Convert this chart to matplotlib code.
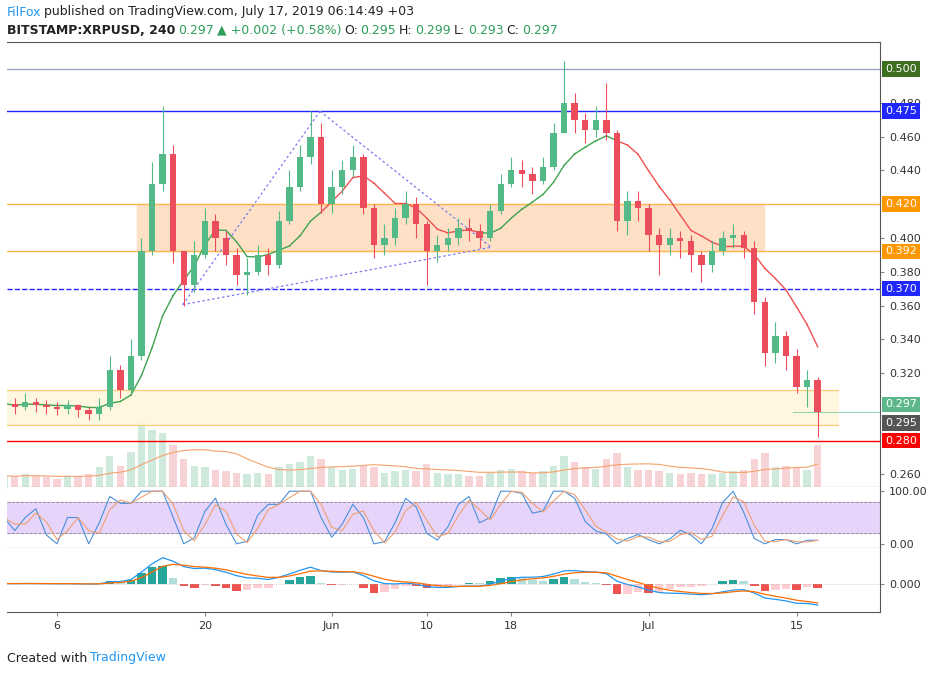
import matplotlib
matplotlib.use("Agg")
import matplotlib.pyplot as plt
import numpy as np
import pandas as pd

# ---- data (daily, day 0 = May 1 2019) ----
closes = [0.302,0.300,0.303,0.301,0.300,0.299,0.301,0.298,0.296,
          0.300,0.322,0.310,0.330,0.392,0.432,0.450,0.392,0.372,0.390,0.410,0.400,0.390,
          0.378,0.380,0.390,0.384,0.410,0.430,0.448,0.460,0.420,
          0.430,0.440,0.448,0.418,0.396,0.400,0.412,0.420,0.408,0.392,0.396,0.400,0.406,
          0.404,0.400,0.416,0.432,0.440,0.438,0.434,0.442,0.462,0.480,0.470,0.464,0.470,
          0.462,0.410,0.422,0.418,
          0.402,0.396,0.400,0.398,0.390,0.384,0.392,0.400,0.402,0.394,0.362,0.332,0.342,
          0.330,0.312,0.316,0.297]
highs = [0.306,0.305,0.308,0.305,0.304,0.303,0.304,0.302,0.300,
         0.305,0.330,0.325,0.340,0.400,0.445,0.478,0.455,0.392,0.398,0.418,0.414,0.404,
         0.394,0.388,0.396,0.394,0.416,0.440,0.455,0.475,0.468,
         0.440,0.446,0.455,0.450,0.420,0.408,0.418,0.428,0.424,0.410,0.402,0.406,0.412,
         0.412,0.408,0.420,0.438,0.448,0.446,0.442,0.448,0.468,0.505,0.486,0.474,0.478,
         0.492,0.464,0.428,0.428,
         0.420,0.406,0.406,0.404,0.402,0.392,0.398,0.404,0.408,0.404,0.398,0.365,0.350,
         0.345,0.334,0.322,0.318]
lows = [0.298,0.296,0.298,0.297,0.296,0.295,0.296,0.294,0.292,
        0.292,0.298,0.305,0.308,0.328,0.390,0.428,0.385,0.360,0.368,0.388,0.392,0.384,
        0.372,0.366,0.378,0.378,0.382,0.408,0.428,0.444,0.415,
        0.415,0.426,0.436,0.414,0.388,0.390,0.396,0.408,0.400,0.372,0.386,0.392,0.396,
        0.398,0.394,0.398,0.414,0.430,0.430,0.426,0.432,0.440,0.462,0.462,0.456,0.460,
        0.458,0.404,0.402,0.410,
        0.392,0.378,0.390,0.388,0.380,0.374,0.380,0.390,0.394,0.388,0.355,0.324,0.326,
        0.322,0.308,0.300,0.282]
volumes = [8,7,9,8,7,6,8,7,9,
           14,22,15,25,45,40,38,30,20,15,14,12,11,
           10,9,10,9,14,16,18,22,20,
           14,12,13,15,14,10,11,12,11,16,10,9,9,
           8,8,10,12,13,11,10,11,15,22,18,14,13,
           20,24,14,12,
           12,11,10,9,10,9,9,10,11,12,20,24,14,
           15,14,12,30]
tick_days = [5, 19, 31, 40, 48, 61, 75]
tick_labels = ["6", "20", "Jun", "10", "18", "Jul", "15"]
price_ticks = [0.260,0.320,0.340,0.360,0.380,0.400,0.440,0.460,0.480]
levels = {"0.500": (0.500, "#9aa5c4", "#3d6e1f"),
          "0.475": (0.475, "#2128ff", "#2128ff"),
          "0.420": (0.420, "#ffb74d", "#ff9800"),
          "0.392": (0.392, "#ffb74d", "#ff9800"),
          "0.370": (0.370, "#2128ff", "#2128ff"),
          "0.280": (0.280, "#ff0000", "#ff0000")}

c = np.array(closes); h = np.array(highs); l = np.array(lows)
o = np.concatenate([[c[0]], c[:-1]])
days = np.arange(len(c))
GREEN, RED = "#53b987", "#eb4d5c"

fig = plt.figure(figsize=(9.39, 6.75), dpi=100)
W, H = 939, 675
def ax_rect(x0, y0, x1, y1):
    return fig.add_axes([x0 / W, 1 - y1 / H, (x1 - x0) / W, (y1 - y0) / H])

xl = (0.27, 82.9)
axv = ax_rect(7, 42, 880, 487)
axp = ax_rect(7, 42, 880, 487)
axr = ax_rect(7, 487, 880, 548)
axm = ax_rect(7, 548, 880, 612)

# volume
axv.set_ylim(0, max(volumes) * 7)
axv.set_xlim(*xl)
axv.axis("off")
vcol = ["#cfe9dc" if cc >= oo else "#f7d3d6" for cc, oo in zip(c, o)]
axv.bar(days, volumes, width=0.7, color=vcol, zorder=0)
axv.plot(days, pd.Series(volumes).rolling(10, min_periods=1).mean(), color="#f5a26b", lw=0.8)
axp.patch.set_visible(False)

for a in (axp, axr, axm):
    a.set_xlim(*xl)
    a.tick_params(left=False, labelleft=False, bottom=False, labelbottom=False,
                  right=True, labelright=True, labelsize=8, labelcolor="#333", length=3, color="#888")
    for s in a.spines.values():
        s.set_color("#555"); s.set_linewidth(0.8)
    a.spines["left"].set_visible(False); a.spines["top"].set_visible(False)
axp.spines["top"].set_visible(True)

axp.set_ylim(0.2526, 0.516)
axp.set_yticks(price_ticks)
axp.set_yticklabels([f"{t:.3f}" for t in price_ticks])

# zones
axp.fill_between([0.27, 78.9], 0.2893, 0.310, color="#fff6d9", alpha=0.8, zorder=1)
axp.plot([0.27, 78.9], [0.310, 0.310], color="#ffc870", lw=0.8)
axp.plot([0.27, 78.9], [0.2893, 0.2893], color="#ffc870", lw=0.8)
axp.fill_between([12.6, 71.9], 0.392, 0.420, color="#fde0c5", zorder=1)
for name, (v, lc, bc) in levels.items():
    axp.axhline(v, color=lc, lw=1, ls="--" if name == "0.370" else "-", zorder=2)
    axp.text(1.006, v, name, transform=axp.get_yaxis_transform(), va="center", ha="left",
             fontsize=8, color="white", bbox=dict(boxstyle="square,pad=0.25", fc=bc, ec="none"), zorder=10)
axp.axhline(0.297, xmin=0.9, color="#8fd0b0", lw=0.7)
for v, bc in ((0.297, "#5cb88a"), (0.295, "#555555")):
    axp.text(1.006, v + (0.0045 if v == 0.297 else -0.0045), f"{v:.3f}", transform=axp.get_yaxis_transform(),
             va="center", ha="left", fontsize=8, color="white",
             bbox=dict(boxstyle="square,pad=0.25", fc=bc, ec="none"), zorder=10)

# triangle
tri = [(16.9, 0.3605), (29.9, 0.4750), (46.1, 0.3945)]
for p, q in ((tri[0], tri[1]), (tri[0], tri[2]), (tri[1], tri[2])):
    axp.plot([p[0], q[0]], [p[1], q[1]], ls=(0, (2, 2)), color="#7b7bf0", lw=0.9, zorder=3)

# MA
ma = pd.Series(c).rolling(8, min_periods=1).mean().values
for i in range(1, len(c)):
    col = "#3fa34d" if (i < 31 or 46 <= i <= 58) else "#f05050"
    axp.plot([i - 1, i], [ma[i - 1], ma[i]], color=col, lw=1, zorder=4)

# candles
for i in days:
    col = GREEN if c[i] >= o[i] else RED
    axp.vlines(i, l[i], h[i], color=col, lw=0.8, zorder=5)
    lo, hi = min(o[i], c[i]), max(o[i], c[i])
    axp.bar(i, max(hi - lo, 0.0008), bottom=lo, width=0.6, color=col, zorder=6)

# stochastic panel
s = pd.Series(c)
k = ((s - s.rolling(4, min_periods=1).min()) /
     (s.rolling(4, min_periods=1).max() - s.rolling(4, min_periods=1).min()).replace(0, np.nan) * 100).fillna(50)
k = k.rolling(2, min_periods=1).mean(); d = k.rolling(2, min_periods=1).mean()
axr.set_ylim(-8, 108)
axr.fill_between(xl, 20, 80, color="#e6d4fb")
axr.axhline(80, color="#888", ls="--", lw=0.6); axr.axhline(20, color="#888", ls="--", lw=0.6)
axr.plot(days, k, color="#4a90d9", lw=0.8); axr.plot(days, d, color="#f0a070", lw=0.8)
axr.set_yticks([0, 100]); axr.set_yticklabels(["0.00", "100.00"])

# MACD
e12 = s.ewm(span=6).mean(); e26 = s.ewm(span=13).mean()
macd = e12 - e26; sig = macd.ewm(span=4).mean(); hist = (macd - sig) * 2
hc = []
for i in range(len(hist)):
    up = hist[i] >= (hist[i - 1] if i else 0)
    hc.append(("#26a69a" if up else "#b2dfdb") if hist[i] >= 0 else ("#ffcdd2" if up else "#ef5350"))
axm.bar(days, hist, width=0.8, color=hc)
axm.plot(days, macd, color="#2196f3", lw=0.9); axm.plot(days, sig, color="#ff6d00", lw=0.9)
lim = max(abs(macd).max(), abs(hist).max()) * 1.1
axm.set_ylim(-lim * 1.0, lim * 1.25)
axm.axhline(0, color="#aaa", lw=0.5, ls=(0, (1, 2)))
axm.set_yticks([0]); axm.set_yticklabels(["0.000"])
axm.tick_params(bottom=True, labelbottom=True, labelcolor="#333")
axm.set_xticks(tick_days); axm.set_xticklabels(tick_labels, fontsize=8)

G = "#2e9e5b"; K = "#222"
def chain2(parts, y):
    prev_t = None
    for txt, col, bold in parts:
        kw = dict(color=col, fontsize=9, va="center", weight="bold" if bold else "normal")
        if prev_t is None:
            prev_t = fig.text(7 / W, y, txt, **kw)
        else:
            prev_t = axp.annotate(txt, xy=(1, 0.5), xycoords=prev_t, xytext=(2, 0),
                                  textcoords="offset points", ha="left", annotation_clip=False, **kw)

chain2([("FilFox", "#2196f3", False),
        ("published on TradingView.com, July 17, 2019 06:14:49 +03", K, False)], 1 - 12 / H)
chain2([("BITSTAMP:XRPUSD, 240", K, True), ("0.297", G, False), ("▲ +0.002 (+0.58%)", G, False),
        ("O:", K, False), ("0.295", G, False), ("H:", K, False), ("0.299", G, False),
        ("L:", K, False), ("0.293", G, False), ("C:", K, False), ("0.297", G, False)], 1 - 30 / H)
chain2([("Created with", K, False), ("TradingView", "#2196f3", False)], 1 - 658 / H)
fig.savefig("out.png", dpi=100)
